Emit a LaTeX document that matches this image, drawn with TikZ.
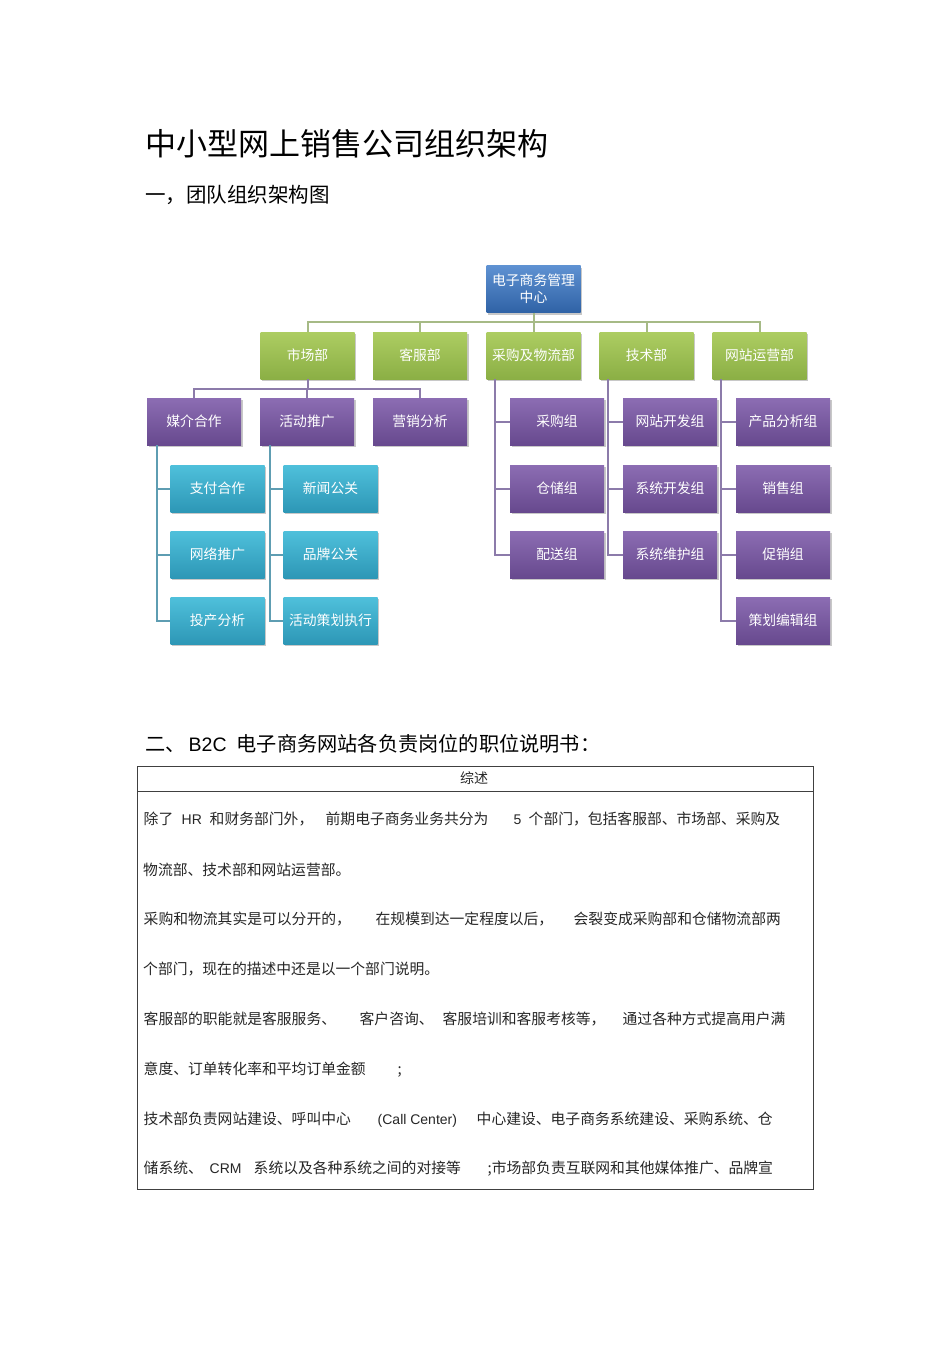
\documentclass[tikz,border=0pt]{standalone}
\usepackage{fontspec}
\setmainfont{Noto Sans CJK SC}
\newfontfamily\lat{Liberation Sans}
\usetikzlibrary{shadows,calc}
\definecolor{blueT}{HTML}{5E92D2}
\definecolor{blueB}{HTML}{2F62A6}
\definecolor{greenT}{HTML}{ADCD62}
\definecolor{greenB}{HTML}{8BAF45}
\definecolor{purpT}{HTML}{8C6DB3}
\definecolor{purpB}{HTML}{67498E}
\definecolor{cyanT}{HTML}{4FC0DB}
\definecolor{cyanB}{HTML}{2D97B6}
\definecolor{gline}{HTML}{A6BA86}
\definecolor{pline}{HTML}{8C7BAA}
\definecolor{cline}{HTML}{5E9DB2}
\newcommand\segx[2]{\makebox[0pt][l]{\hspace*{#1pt}#2}}
\begin{document}
\begin{tikzpicture}[x=1pt,y=-1pt,
  box/.style={minimum width=94pt, minimum height=47pt, inner sep=0pt, text=white,
    font=\fontsize{13.8}{17}\selectfont, align=center,
    drop shadow={shadow xshift=1.5pt, shadow yshift=-2pt, opacity=0.3, fill=black!70}},
  bluebox/.style={box, top color=blueT, bottom color=blueB},
  greenbox/.style={box, top color=greenT, bottom color=greenB},
  purpbox/.style={box, top color=purpT, bottom color=purpB},
  cyanbox/.style={box, top color=cyanT, bottom color=cyanB},
  gconn/.style={draw=gline, line width=2pt},
  pconn/.style={draw=pline, line width=2pt},
  cconn/.style={draw=cline, line width=2pt},
  txt/.style={anchor=base west, inner sep=0pt, font=\fontsize{14.8}{16}\selectfont, text=black!85},
]
\useasboundingbox (0,0) rectangle (950,1345);
\fill[white] (0,0) rectangle (950,1345);

% headings
\node[anchor=base west, inner sep=0pt, font=\fontsize{31}{33}\selectfont] (title) at (145,155) {中小型网上销售公司组织架构};
\node[anchor=base west, inner sep=0pt, font=\fontsize{20.5}{22}\selectfont] (sub1) at (145,202) {一，团队组织架构图};
\node[anchor=base west, inner sep=0pt, font=\fontsize{20.2}{22}\selectfont] (sub2) at (145,751)
  {\segx{0}{二、}\segx{43}{\lat\fontsize{19.5}{22}\selectfont B2C}\segx{91}{电子商务网站各负责岗位的职位说明书：}};

% org chart boxes
\node[bluebox] (top) at (533.5,289) {电子商务管理\\中心};
\node[greenbox] (m1) at (307.5,355.5) {市场部};
\node[greenbox] (m2) at (420,355.5) {客服部};
\node[greenbox] (m3) at (533.5,355.5) {采购及物流部};
\node[greenbox] (m4) at (646.5,355.5) {技术部};
\node[greenbox] (m5) at (759.5,355.5) {网站运营部};

\node[purpbox] (s1) at (194,421.5) {媒介合作};
\node[purpbox] (s2) at (307,421.5) {活动推广};
\node[purpbox] (s3) at (420,421.5) {营销分析};

\node[purpbox] (p1) at (557,421.5) {采购组};
\node[purpbox] (p2) at (557,488.5) {仓储组};
\node[purpbox] (p3) at (557,554.5) {配送组};

\node[purpbox] (t1) at (670,421.5) {网站开发组};
\node[purpbox] (t2) at (670,488.5) {系统开发组};
\node[purpbox] (t3) at (670,554.5) {系统维护组};

\node[purpbox] (w1) at (783,421.5) {产品分析组};
\node[purpbox] (w2) at (783,488.5) {销售组};
\node[purpbox] (w3) at (783,554.5) {促销组};
\node[purpbox] (w4) at (783,620.5) {策划编辑组};

\node[cyanbox] (c1) at (217.5,488.5) {支付合作};
\node[cyanbox] (c2) at (217.5,554.5) {网络推广};
\node[cyanbox] (c3) at (217.5,620.5) {投产分析};

\node[cyanbox] (d1) at (330.5,488.5) {新闻公关};
\node[cyanbox] (d2) at (330.5,554.5) {品牌公关};
\node[cyanbox] (d3) at (330.5,620.5) {活动策划执行};

% connectors
\coordinate (bus1) at (533.5,322);
\draw[gconn] (top.south) -- (bus1);
\foreach \n in {m1,m2,m3,m4,m5} \draw[gconn] (bus1) -| (\n.north);

\coordinate (bus2) at (307.5,389);
\draw[pconn] (m1.south) -- (bus2);
\foreach \n in {s1,s2,s3} \draw[pconn] (bus2) -| (\n.north);

\coordinate (v3) at ($(m3.south west)+(9,0)$);
\foreach \n in {p1,p2,p3} \draw[pconn] (v3) |- (\n.west);
\coordinate (v4) at ($(m4.south west)+(9,0)$);
\foreach \n in {t1,t2,t3} \draw[pconn] (v4) |- (\n.west);
\coordinate (v5) at ($(m5.south west)+(9,0)$);
\foreach \n in {w1,w2,w3,w4} \draw[pconn] (v5) |- (\n.west);

\coordinate (v1) at ($(s1.south west)+(10,0)$);
\foreach \n in {c1,c2,c3} \draw[cconn] (v1) |- (\n.west);
\coordinate (v2) at ($(s2.south west)+(10,0)$);
\foreach \n in {d1,d2,d3} \draw[cconn] (v2) |- (\n.west);

% table
\draw[line width=1pt, draw=black!75] (137,766) rectangle (813,1189);
\draw[line width=1pt, draw=black!75] (137,791) -- (813,791);
\node[anchor=base, inner sep=0pt, font=\fontsize{14}{16}\selectfont, text=black!85] (hd) at (474,783.5) {综述};

\node[txt] (l1) at (143,824) {\segx{0}{除了}\segx{38}{\lat\fontsize{14}{16}\selectfont HR}\segx{66}{和财务部门外，}\segx{182}{前期电子商务业务共分为}\segx{370}{\lat\fontsize{14}{16}\selectfont 5}\segx{385}{个部门，包括客服部、市场部、采购及}};
\node[txt] (l2) at (143,875) {物流部、技术部和网站运营部。};
\node[txt] (l3) at (143,924) {\segx{0}{采购和物流其实是可以分开的，}\segx{232}{在规模到达一定程度以后，}\segx{430}{会裂变成采购部和仓储物流部两}};
\node[txt] (l4) at (143,974) {个部门，现在的描述中还是以一个部门说明。};
\node[txt] (l5) at (143,1024) {\segx{0}{客服部的职能就是客服服务、}\segx{216}{客户咨询、}\segx{299}{客服培训和客服考核等，}\segx{479}{通过各种方式提高用户满}};
\node[txt] (l6) at (143,1074) {\segx{0}{意度、订单转化率和平均订单金额}\segx{254}{;}};
\node[txt] (l7) at (143,1124) {\segx{0}{技术部负责网站建设、呼叫中心}\segx{234}{\lat\fontsize{14}{16}\selectfont (Call Center)}\segx{333}{中心建设、电子商务系统建设、采购系统、仓}};
\node[txt] (l8) at (143,1173) {\segx{0}{储系统、}\segx{66}{\lat\fontsize{14}{16}\selectfont CRM}\segx{110}{系统以及各种系统之间的对接等}\segx{344}{;市场部负责互联网和其他媒体推广、品牌宣}};
\end{tikzpicture}
\end{document}
